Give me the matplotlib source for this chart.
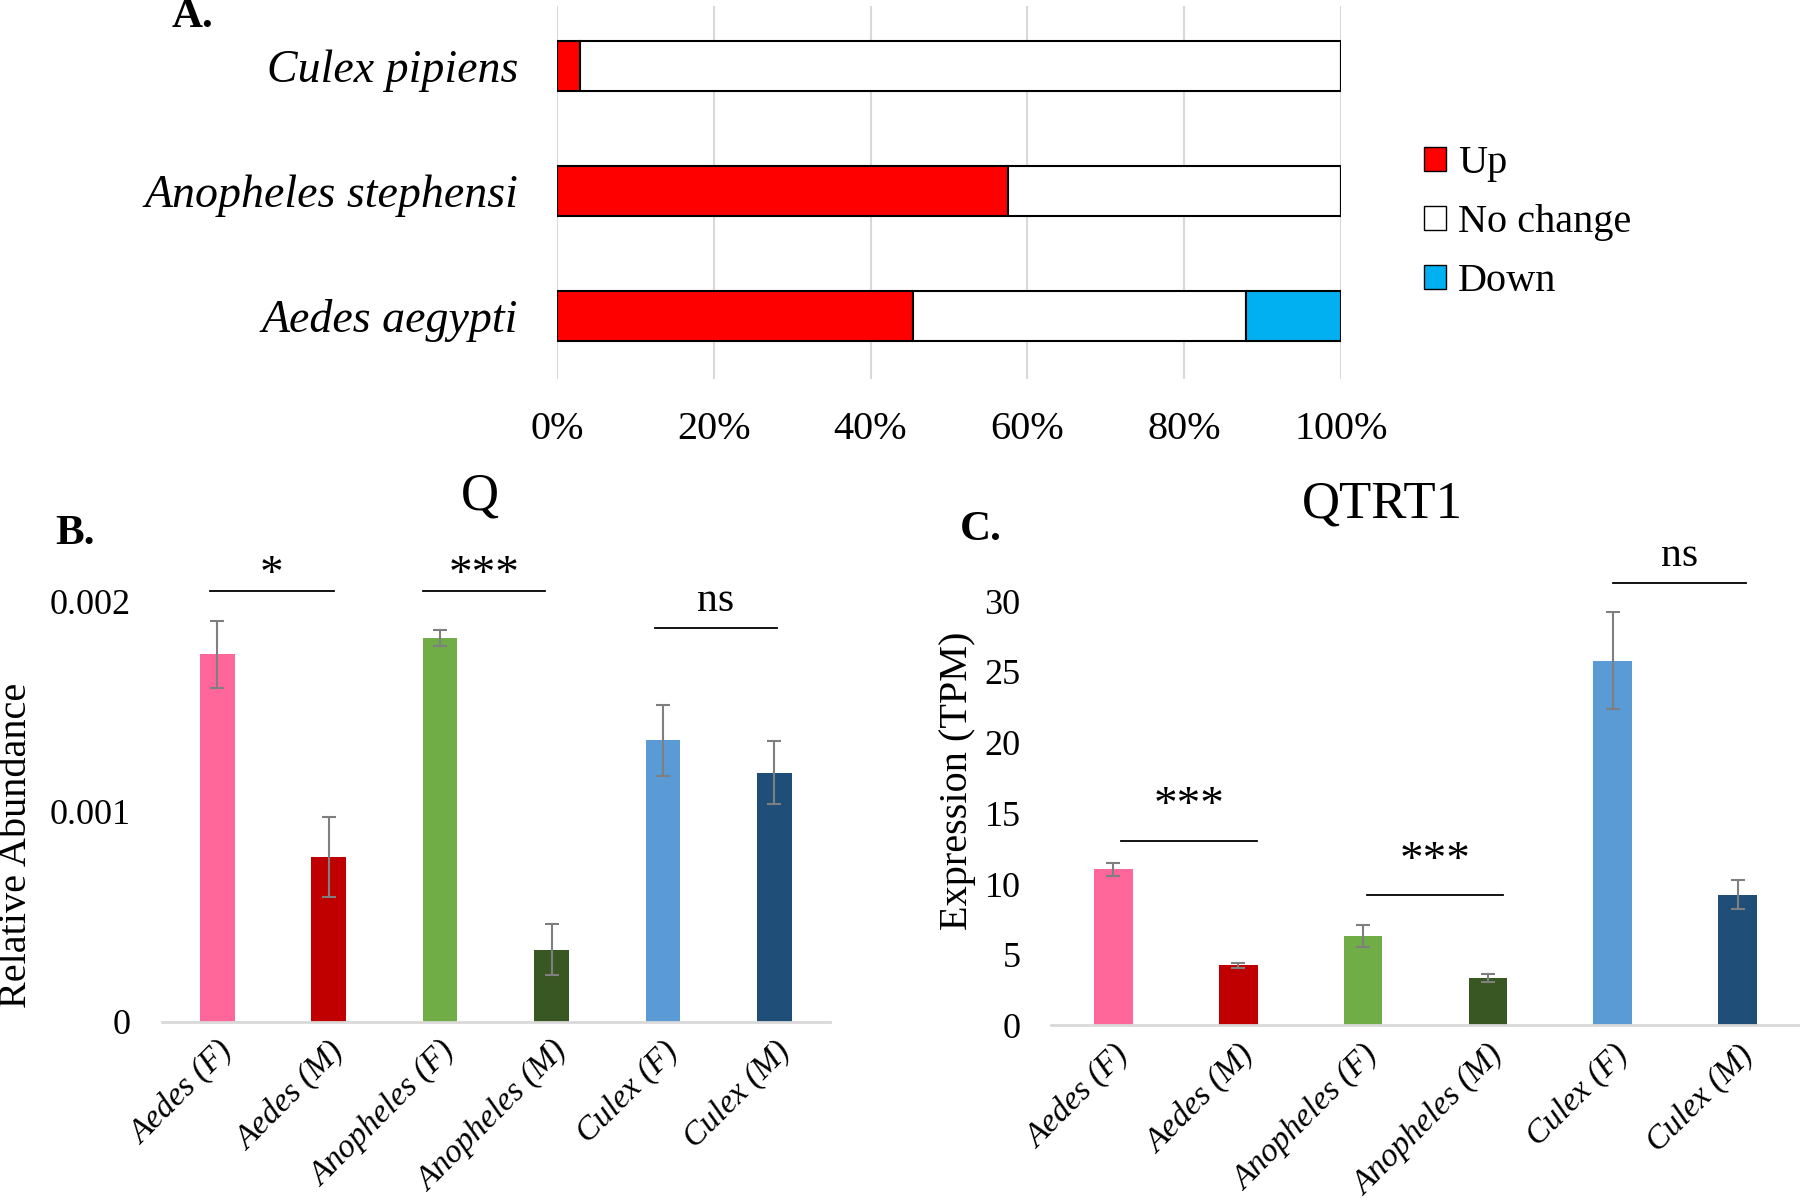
import matplotlib.pyplot as plt
from matplotlib.patches import Patch

plt.rcParams['font.family'] = ['Liberation Serif', 'DejaVu Serif']

# panel A: percent of genes per species
species = ["Aedes aegypti", "Anopheles stephensi", "Culex pipiens"]
pct_up = [45.4, 57.5, 2.9]
pct_none = [42.5, 42.5, 97.1]
pct_down = [12.1, 0.0, 0.0]
pct_ticks = [0, 20, 40, 60, 80, 100]

# panels B and C share the groups
groups = ["Aedes (F)", "Aedes (M)", "Anopheles (F)", "Anopheles (M)", "Culex (F)", "Culex (M)"]
bar_colors = ["#FF6699", "#C00000", "#70AD47", "#385723", "#5B9BD5", "#1F4E79"]

# panel B: Q relative abundance
q_mean = [0.001751, 0.000787, 0.001829, 0.000345, 0.001341, 0.001186]
q_err = [0.00016, 0.00019, 0.000037, 0.00012, 0.00017, 0.00015]
q_ticks = [0, 0.001, 0.002]
q_tick_labels = ["0", "0.001", "0.002"]
# (start, end, height, text)
q_sig = [(-0.07, 1.05, 0.00205, "*"), (1.85, 2.94, 0.00205, "***"), (3.93, 5.02, 0.001876, "ns")]

# panel C: QTRT1 expression
tpm_mean = [11.04, 4.24, 6.32, 3.36, 25.79, 9.25]
tpm_err = [0.48, 0.18, 0.75, 0.27, 3.43, 1.02]
tpm_ticks = [0, 5, 10, 15, 20, 25, 30]
tpm_sig = [(0.06, 1.15, 13.06, "***"), (2.03, 3.12, 9.22, "***"), (4.0, 5.07, 31.27, "ns")]


def plot_stacked(ax):
    """
    Draws the horizontal stacked percent bars of panel A
    """
    y = list(range(len(species)))
    left_none = [pct_up[i] for i in range(len(species))]
    left_down = [pct_up[i] + pct_none[i] for i in range(len(species))]
    ax.barh(y, pct_up, 0.4, color="#FF0000", edgecolor="black", linewidth=1.5, label="Up", zorder=3)
    ax.barh(y, pct_none, 0.4, left=left_none, color="white", edgecolor="black", linewidth=1.5,
            label="No change", zorder=3)
    ax.barh(y, pct_down, 0.4, left=left_down, color="#00B0F0", edgecolor="black", linewidth=1.5,
            label="Down", zorder=3)

    ax.set_xlim(0, 100)
    ax.set_ylim(-0.51, 2.48)
    ax.set_xticks(pct_ticks)
    ax.set_xticklabels([str(t) + "%" for t in pct_ticks], fontsize=29)
    ax.set_yticks(y)
    ax.set_yticklabels(species, fontsize=33, style="italic")
    ax.tick_params(axis="x", length=0, pad=23)
    ax.tick_params(axis="y", length=0, pad=28)
    ax.grid(axis="x", color="#D9D9D9", linewidth=1.5, zorder=0)
    for side in ax.spines:
        ax.spines[side].set_visible(False)


def plot_bars(ax, means, errs, ylim, ticks, tick_labels, sig, ylabel, star_offset):
    """
    Draws one bar chart with error bars and significance lines
    """
    x = list(range(len(groups)))
    ax.bar(x, means, 0.31, color=bar_colors, zorder=2)
    ax.errorbar(x, means, yerr=errs, fmt="none", ecolor="#7F7F7F", elinewidth=1.5,
                capsize=5, capthick=1.5, zorder=3)

    # significance lines and labels (asterisks sit higher in the font, so they get their own offset)
    for start, end, height, text in sig:
        ax.plot([start, end], [height, height], color="black", linewidth=1.3, clip_on=False)
        if text == "ns":
            size, offset = 30, 6
        else:
            size, offset = 34, star_offset
        ax.annotate(text, ((start + end) / 2, height), xytext=(0, offset), textcoords="offset points",
                    ha="center", va="bottom", fontsize=size, annotation_clip=False)

    ax.set_xlim(-0.5, 5.5)
    ax.set_ylim(ylim)
    ax.set_yticks(ticks)
    ax.set_yticklabels(tick_labels, fontsize=26)
    ax.set_xticks(x)
    ax.set_xticklabels(groups, fontsize=24, style="italic", rotation=45, ha="right",
                       rotation_mode="anchor")
    ax.tick_params(axis="both", length=0)
    ax.tick_params(axis="y", pad=22)
    ax.tick_params(axis="x", pad=10)
    ax.set_ylabel(ylabel, fontsize=29)
    for side in ["top", "right", "left"]:
        ax.spines[side].set_visible(False)
    ax.spines["bottom"].set_color("#D9D9D9")
    ax.spines["bottom"].set_linewidth(2)


def main():
    fig = plt.figure(figsize=(18, 12.04), dpi=100)

    # panel A
    ax_a = fig.add_axes([0.3094, 0.685, 0.4356, 0.31])
    plot_stacked(ax_a)
    handles = [Patch(facecolor="#FF0000", edgecolor="black"),
               Patch(facecolor="white", edgecolor="black"),
               Patch(facecolor="#00B0F0", edgecolor="black")]
    fig.legend(handles, ["Up", "No change", "Down"], loc="upper left", bbox_to_anchor=(0.782, 0.893),
               frameon=False, fontsize=29, handlelength=0.55, handleheight=0.55, handletextpad=0.3,
               labelspacing=0.55, borderaxespad=0)

    # panel B
    ax_b = fig.add_axes([0.0898, 0.1512, 0.3713, 0.3837])
    plot_bars(ax_b, q_mean, q_err, (0, 0.0022), q_ticks, q_tick_labels, q_sig, "Relative Abundance", -4)
    ax_b.yaxis.set_label_coords(-0.19, 0.383)

    # panel C
    ax_c = fig.add_axes([0.5839, 0.1483, 0.4161, 0.3865])
    plot_bars(ax_c, tpm_mean, tpm_err, (0, 32.9), tpm_ticks, [str(t) for t in tpm_ticks], tpm_sig,
              "Expression (TPM)", 9)
    ax_c.yaxis.set_label_coords(-0.10, 0.525)

    # titles and panel letters
    fig.text(0.2667, 0.588, "Q", fontsize=38, ha="center", va="center")
    fig.text(0.768, 0.5806, "QTRT1", fontsize=38, ha="center", va="center")
    fig.text(0.0956, 0.986, "A.", fontsize=31, fontweight="bold", ha="left", va="center")
    fig.text(0.0306, 0.5565, "B.", fontsize=31, fontweight="bold", ha="left", va="center")
    fig.text(0.533, 0.56, "C.", fontsize=31, fontweight="bold", ha="left", va="center")

    fig.savefig("out.png", dpi=100)


if __name__ == '__main__':
    main()
